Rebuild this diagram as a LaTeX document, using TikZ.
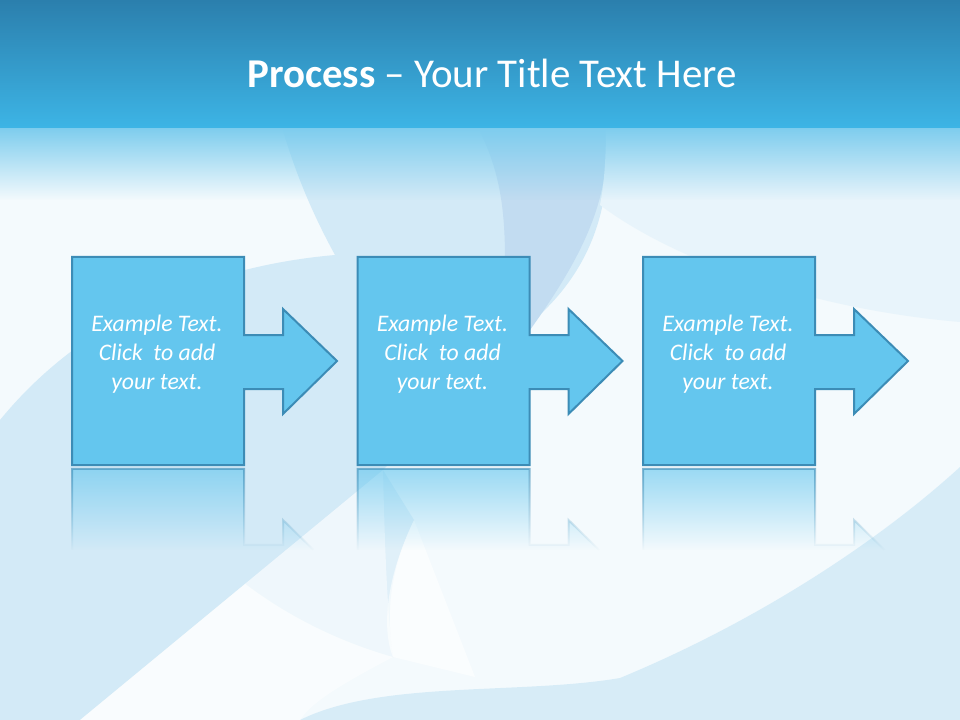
\documentclass[tikz,border=0pt]{standalone}
\usepackage{fontspec}
\setmainfont{Carlito}
\usetikzlibrary{fadings}

\definecolor{bandtop}{HTML}{2B7FAD}
\definecolor{bandlow}{HTML}{3DB5E6}
\definecolor{bandfade}{HTML}{7ECDEE}
\definecolor{bgbase}{HTML}{F4FAFD}
\definecolor{swooshA}{HTML}{D3EAF7}
\definecolor{swooshB}{HTML}{C2DCF1}
\definecolor{swooshC}{HTML}{E8F4FB}
\definecolor{boxfill}{HTML}{64C6EE}
\definecolor{boxline}{HTML}{3C8CB6}

\tikzfading[name=fadedown, top color=transparent!0, middle color=transparent!72, bottom color=transparent!100]
\tikzfading[name=reflectfade, top color=transparent!38, bottom color=transparent!100]

\begin{document}
\begin{tikzpicture}[x=0.75pt,y=0.75pt,yscale=-1,xscale=1,
  stepshape/.style={fill=boxfill, draw=boxline, line width=1.5pt, line join=miter},
  reflectfill/.style={fill=boxfill, path fading=reflectfade},
  reflectline/.style={draw=boxline, line width=1.5pt, path fading=reflectfade},
  steptext/.style={align=center, text=white, inner sep=0.75pt, font=\fontsize{17.8}{21.75}\selectfont\itshape},
  titletext/.style={text=white, inner sep=0.75pt, font=\fontsize{30.7}{36}\selectfont}]
\useasboundingbox (0,0) rectangle (960,720);

%Background
\fill[bgbase] (0,0) rectangle (960,720);
%Shape: left swoosh
\fill[swooshA] (0,420) .. controls (90,310) and (220,265) .. (335,255) .. controls (305,200) and (292,160) .. (282,128) -- (606,128) .. controls (615,220) and (580,280) .. (533,321) .. controls (490,370) and (430,420) .. (383,470) -- (80,720) -- (0,720) -- cycle ;
%Shape: dark swoosh
\fill[swooshB] (478,128) .. controls (500,170) and (505,210) .. (505,260) -- (505,330) -- (530,330) .. controls (580,260) and (612,200) .. (606,128) -- cycle ;
%Shape: upper right haze
\fill[swooshC] (606,128) .. controls (606,160) and (604,185) .. (600,205) .. controls (680,265) and (820,310) .. (960,322) -- (960,128) -- cycle ;
%Shape: circle shade
\fill[swooshA, opacity=0.6] (150,470) .. controls (185,550) and (280,625) .. (393,657) .. controls (384,600) and (395,560) .. (414,520) -- (383,470) -- cycle ;
%Shape: lower right swoosh
\fill[swooshA, opacity=0.85] (300,720) .. controls (380,680) and (520,695) .. (620,678) .. controls (760,620) and (880,540) .. (960,467) -- (960,720) -- cycle ;
%Shape: white lens
\fill[white, opacity=0.6] (414,520) .. controls (385,580) and (382,630) .. (393,657) -- (475,677) -- cycle ;
%Shape: lower left light band
\fill[white, opacity=0.5] (80,720) -- (383,470) .. controls (385,560) and (388,620) .. (393,657) .. controls (330,690) and (310,705) .. (300,720) -- cycle ;

%Title band
\shade[top color=bandtop, bottom color=bandlow] (0,0) rectangle (960,129);
\fill[bandfade, path fading=fadedown] (0,128) rectangle (960,200);

% Text Node
\node (title) [titletext, anchor=base] at (492,88) {\textbf{Process} \textendash{} Your Title Text Here};

%Reflections
\fill[reflectfill] (72,469) -- (244,469) -- (244,545) -- (283,545) -- (283,520) -- (313.5,550) -- (72,550) -- cycle ;
\draw[reflectline] (72,550) -- (72,469) -- (244,469) -- (244,545) -- (283,545) -- (283,520) -- (313.5,550) ;
\fill[reflectfill] (357.5,469) -- (529.5,469) -- (529.5,545) -- (568.5,545) -- (568.5,520) -- (599,550) -- (357.5,550) -- cycle ;
\draw[reflectline] (357.5,550) -- (357.5,469) -- (529.5,469) -- (529.5,545) -- (568.5,545) -- (568.5,520) -- (599,550) ;
\fill[reflectfill] (643,469) -- (815,469) -- (815,545) -- (854,545) -- (854,520) -- (884.5,550) -- (643,550) -- cycle ;
\draw[reflectline] (643,550) -- (643,469) -- (815,469) -- (815,545) -- (854,545) -- (854,520) -- (884.5,550) ;

%Shape: step one
\draw[stepshape] (72,257) -- (244,257) -- (244,335) -- (283,335) -- (283,309) -- (337,361) -- (283,414) -- (283,389) -- (244,389) -- (244,465) -- (72,465) -- cycle ;
%Shape: step two
\draw[stepshape] (357.5,257) -- (529.5,257) -- (529.5,335) -- (568.5,335) -- (568.5,309) -- (622.5,361) -- (568.5,414) -- (568.5,389) -- (529.5,389) -- (529.5,465) -- (357.5,465) -- cycle ;
%Shape: step three
\draw[stepshape] (643,257) -- (815,257) -- (815,335) -- (854,335) -- (854,309) -- (908,361) -- (854,414) -- (854,389) -- (815,389) -- (815,465) -- (643,465) -- cycle ;

% Text Node
\node (stepone) [steptext] at (157,354) {Example Text.\\Click~ to add\\your text.};
% Text Node
\node (steptwo) [steptext] at (442.5,354) {Example Text.\\Click~ to add\\your text.};
% Text Node
\node (stepthree) [steptext] at (728,354) {Example Text.\\Click~ to add\\your text.};

\end{tikzpicture}
\end{document}
